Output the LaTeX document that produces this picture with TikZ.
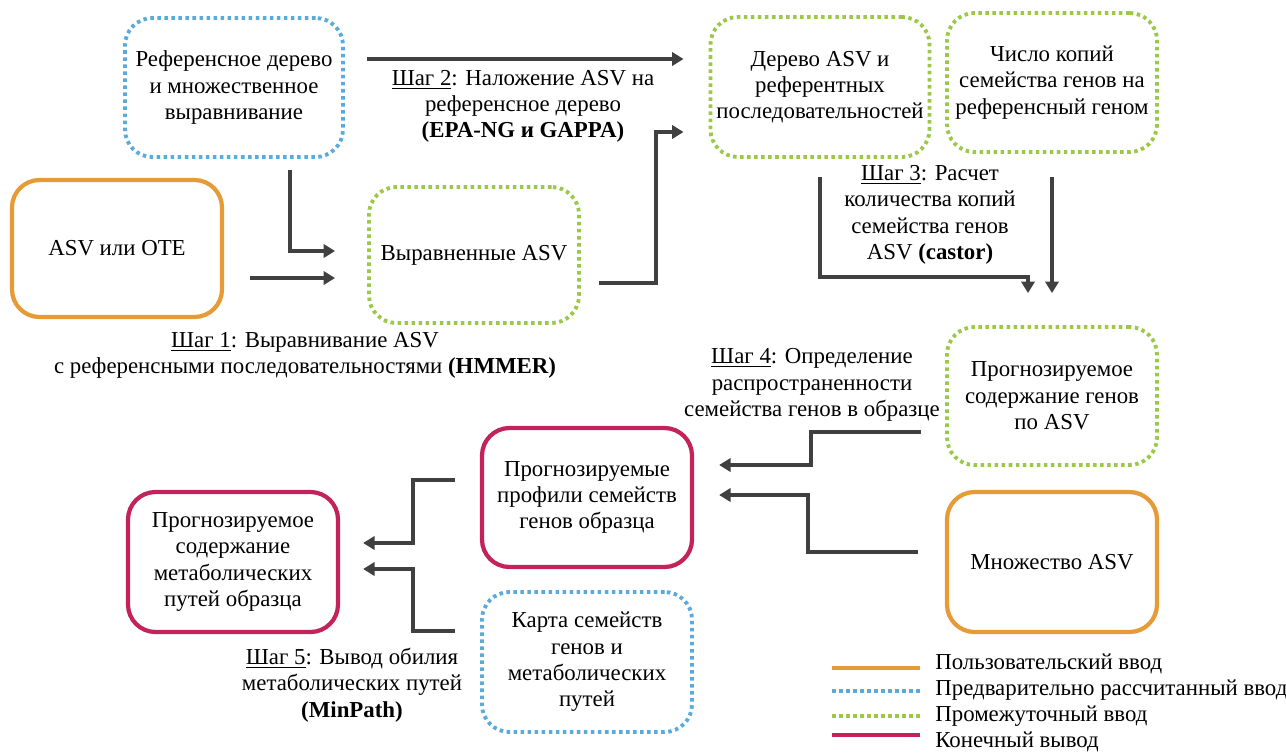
\documentclass[tikz,border=0pt]{standalone}
\usepackage{fontspec}
\setmainfont{Liberation Serif}
\usepackage{xcolor}
\usepackage{tikz}
\usetikzlibrary{arrows.meta, positioning, calc}
\definecolor{userorange}{HTML}{E69B37}
\definecolor{precalcblue}{HTML}{5AAADC}
\definecolor{interimgreen}{HTML}{9BC846}
\definecolor{finalred}{HTML}{C3235A}
\definecolor{arrowgray}{HTML}{404040}
\tikzstyle{box} = [rectangle, rounded corners=0.55cm, minimum width=4.2cm, minimum height=2.78cm, align=center, font=\fontsize{13pt}{15pt}\selectfont]
\tikzstyle{userin} = [box, draw=userorange, line width=2.4pt]
\tikzstyle{precalc} = [box, draw=precalcblue, line width=2.2pt, dash pattern=on 2pt off 2pt]
\tikzstyle{interim} = [box, draw=interimgreen, line width=2.2pt, dash pattern=on 2pt off 2pt]
\tikzstyle{final} = [box, draw=finalred, line width=2.4pt]
\tikzstyle{steptext} = [align=center, font=\fontsize{13pt}{15pt}\selectfont]
\tikzstyle{legendtext} = [anchor=west, inner sep=0pt, font=\fontsize{13pt}{15pt}\selectfont]
\tikzstyle{arrow} = [draw=arrowgray, line width=2.2pt, -{Triangle[length=6.5pt,width=7.5pt]}]

\begin{document}
\begin{tikzpicture}
    \useasboundingbox (0,0) rectangle (25.72,-15.06);
    % input and reference data
    \node (ref) [precalc, minimum width=4.36cm] at (4.68,-1.75) {Референсное дерево\\и множественное\\выравнивание};
    \node (asvin) [userin, minimum height=2.74cm] at (2.34,-4.97) {ASV или ОТЕ};
    \node (aligned) [interim, minimum height=2.72cm] at (9.48,-5.10) {Выравненные ASV};
    \node (tree) [interim, minimum height=2.8cm] at (16.40,-1.74) {Дерево ASV и\\референтных\\последовательностей};
    \node (copies) [interim] at (21.04,-1.65) {Число копий\\семейства генов на\\референсный геном};
    \node (genecont) [interim, minimum height=2.76cm] at (21.04,-7.92) {Прогнозируемое\\содержание генов\\по ASV};
    \node (asvset) [userin, minimum height=2.8cm] at (21.04,-11.24) {Множество ASV};
    \node (profiles) [final] at (11.74,-9.95) {Прогнозируемые\\профили семейств\\генов образца};
    \node (pathways) [final, minimum height=2.8cm] at (4.66,-11.24) {Прогнозируемое\\содержание\\метаболических\\путей образца};
    \node (map) [precalc, minimum height=2.8cm] at (11.74,-13.24) {Карта семейств\\генов и\\метаболических\\путей};

    % step labels
    \node (step1) [steptext] at (6.10,-7.11) {\underline{Шаг 1}: Выравнивание ASV\\с референсными последовательностями \textbf{(HMMER)}};
    \node (step2) [steptext] at (10.46,-2.13) {\underline{Шаг 2}: Наложение ASV на\\референсное дерево\\\textbf{(EPA-NG и GAPPA)}};
    \node (step3) [steptext] at (18.60,-4.30) {\underline{Шаг 3}: Расчет\\количества копий\\семейства генов\\ASV \textbf{(castor)}};
    \node (step4) [steptext] at (16.24,-7.70) {\underline{Шаг 4}: Определение\\распространенности\\семейства генов в образце};
    \node (step5) [steptext] at (7.04,-13.70) {\underline{Шаг 5}: Вывод обилия\\метаболических путей\\\textbf{(MinPath)}};

    % step 1
    \draw [arrow, shorten <=0.22cm, shorten >=0.64cm] ([xshift=1.12cm]ref.south) |- ([yshift=0.08cm]aligned.west);
    \draw [arrow, shorten <=0.52cm, shorten >=0.64cm] ([yshift=-0.46cm]aligned.west -| asvin.east) -- ([yshift=-0.46cm]aligned.west);
    % step 2
    \draw [arrow, shorten <=0.44cm, shorten >=0.5cm] ([yshift=0.57cm]ref.east) -- ([yshift=0.57cm]ref.east -| tree.west);
    \draw [arrow, shorten <=0.36cm, shorten >=0.5cm] ([yshift=-0.56cm]aligned.east) -- ++(1.5cm,0) |- ([yshift=-0.9cm]tree.west);
    % step 3
    \draw [arrow, shorten <=0.36cm, shorten >=0.64cm] (tree.south) -- ++(0,-2.36cm) -| ([xshift=-0.48cm]genecont.north);
    \draw [arrow, shorten <=0.46cm, shorten >=0.64cm] (copies.south) -- (copies.south |- genecont.north);
    % step 4
    \draw [arrow, shorten <=0.48cm, shorten >=0.5cm] ([yshift=-0.72cm]genecont.west) -- ++(-2.68cm,0) |- ([yshift=0.65cm]profiles.east);
    \draw [arrow, shorten <=0.54cm, shorten >=0.5cm] ([yshift=0.2cm]asvset.west) -- ++(-2.74cm,0) |- ([yshift=0.05cm]profiles.east);
    % step 5
    \draw [arrow, shorten <=0.5cm, shorten >=0.46cm] ([yshift=0.35cm]profiles.west) -- ++(-1.34cm,0) |- ([yshift=0.38cm]pathways.east);
    \draw [arrow, shorten <=0.5cm, shorten >=0.46cm] ([yshift=0.62cm]map.west) -- ++(-1.34cm,0) |- ([yshift=-0.14cm]pathways.east);

    % legend
    \node (leg1) [legendtext] at (18.70,-13.28) {Пользовательский ввод};
    \node (leg2) [legendtext] at (18.70,-13.80) {Предварительно рассчитанный ввод};
    \node (leg3) [legendtext] at (18.70,-14.32) {Промежуточный ввод};
    \node (leg4) [legendtext] at (18.70,-14.84) {Конечный вывод};
    \draw [userorange, line width=2.4pt] ([xshift=-2.06cm,yshift=-0.08cm]leg1.west) -- ++(1.76cm,0);
    \draw [precalcblue, line width=2.2pt, dash pattern=on 2pt off 2pt] ([xshift=-2.06cm,yshift=-0.02cm]leg2.west) -- ++(1.76cm,0);
    \draw [interimgreen, line width=2.2pt, dash pattern=on 2pt off 2pt] ([xshift=-2.06cm]leg3.west) -- ++(1.76cm,0);
    \draw [finalred, line width=2.4pt] ([xshift=-2.06cm,yshift=0.14cm]leg4.west) -- ++(1.76cm,0);
\end{tikzpicture}
\end{document}
